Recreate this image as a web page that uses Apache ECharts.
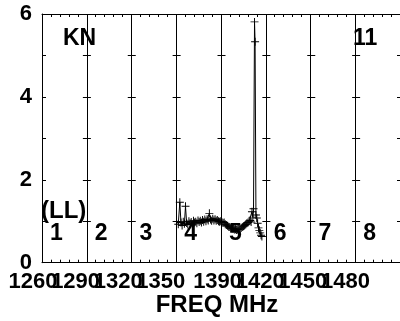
<!DOCTYPE html>
<html lang="en">
<head>
<meta charset="UTF-8">
<title>KN 11 (LL)</title>
<style>html, body { margin: 0; padding: 0; background: #fff; }</style>
</head>
<body>
<div id="chart" style="width: 400px; height: 321px"></div>
<script src="https://cdn.jsdelivr.net/npm/echarts@6/dist/echarts.min.js"></script>
<script>
// tick labels and band numbers
const freqTicks = [1260, 1290, 1320, 1350, 1390, 1420, 1450, 1480];
const bandNames = ['1', '2', '3', '4', '5', '6', '7', '8'];

// spectrum (MHz, amplitude)
const freq = [1362.3, 1363.4, 1364.2, 1365.0, 1365.8, 1366.6, 1367.4, 1368.2, 1369.0, 1369.8,
              1370.6, 1371.4, 1372.2, 1373.0, 1373.8, 1374.6, 1375.4, 1376.2, 1377.0, 1377.8,
              1378.6, 1379.4, 1380.2, 1381.0, 1381.8, 1382.6, 1383.4, 1384.2, 1385.0, 1385.8,
              1386.6, 1387.4, 1388.2, 1389.0, 1389.8, 1390.6, 1391.4, 1392.2, 1393.0, 1393.8,
              1394.6, 1395.4, 1396.2, 1397.0, 1397.8, 1398.6, 1399.4, 1400.2, 1401.0, 1401.8,
              1402.6, 1403.4, 1404.2, 1405.0, 1405.8, 1406.6, 1407.4, 1408.2, 1409.0, 1409.8,
              1410.6, 1411.4, 1412.2, 1413.0, 1413.6, 1414.2, 1414.8, 1415.3, 1416.0, 1416.4,
              1417.0, 1417.6, 1418.2, 1418.8, 1419.4, 1420.0, 1420.6, 1421.2];
const amp = [0.93, 1.46, 0.97, 0.90, 0.99, 0.94, 1.36, 0.96, 0.92, 1.00,
             0.95, 0.98, 0.93, 1.01, 0.97, 0.99, 0.95, 1.02, 0.98, 1.01,
             0.97, 1.03, 0.99, 1.04, 1.00, 1.05, 1.02, 1.19, 1.04, 1.01,
             1.06, 1.02, 1.05, 1.01, 1.03, 1.00, 0.99, 1.00, 0.98, 0.96,
             0.97, 0.93, 0.91, 0.89, 0.87, 0.86, 0.84, 0.83, 0.82, 0.80,
             0.81, 0.79, 0.80, 0.82, 0.81, 0.84, 0.86, 0.88, 0.90, 0.92,
             0.95, 0.97, 1.00, 1.02, 0.98, 1.23, 1.10, 1.30, 5.81, 5.33,
             1.15, 1.08, 0.95, 0.84, 0.78, 0.72, 0.66, 0.63];

const FONT = 'Liberation Sans, Arial, sans-serif';
const plus = 'path://M0,4.4L10,4.4L10,5.6L0,5.6Z M4.4,0L5.6,0L5.6,10L4.4,10Z';
const bandW = 359 / 8;

// the labels overlap each other, so split them over two label-only axes
function labelAxis(values) {
    return {
        gridIndex: 1, type: 'value', min: 1260, max: 1500, position: 'bottom', offset: 0,
        axisLine: { show: false },
        axisTick: { show: false },
        splitLine: { show: false },
        axisLabel: {
            customValues: values,
            formatter: v => String(v),
            showMinLabel: true,
            showMaxLabel: true,
            hideOverlap: false,
            color: '#000', fontFamily: FONT, fontWeight: 'bold', fontSize: 22, margin: 8
        }
    };
}

const chart = echarts.init(document.getElementById('chart'));

const option = {
    animation: false,
    grid: [
        { left: 42, top: 14, width: 359, height: 248.7 },
        { left: 33, top: 14, width: (1500 - 1260) * 1.42, height: 248.7 }
    ],
    xAxis: [
        {
            gridIndex: 0, type: 'value', min: 0, max: 8, interval: 1, position: 'bottom',
            axisLine: { lineStyle: { color: '#000', width: 1 } },
            axisTick: { inside: true, length: 4, lineStyle: { color: '#000' } },
            minorTick: { show: true, splitNumber: 5, length: 3, lineStyle: { color: '#000' } },
            splitLine: { show: true, lineStyle: { color: '#000', width: 1 } },
            axisLabel: { show: false }
        },
        {
            gridIndex: 0, type: 'value', min: 0, max: 8, interval: 1, position: 'top',
            axisLine: { lineStyle: { color: '#000', width: 1 } },
            axisTick: { inside: true, length: 4, lineStyle: { color: '#000' } },
            minorTick: { show: true, splitNumber: 5, length: 3, lineStyle: { color: '#000' } },
            splitLine: { show: false },
            axisLabel: { show: false }
        },
        labelAxis(freqTicks.filter((v, i) => i % 2 === 0)),
        labelAxis(freqTicks.filter((v, i) => i % 2 === 1))
    ],
    yAxis: [
        {
            gridIndex: 0, type: 'value', min: 0, max: 6, interval: 1,
            axisLine: { show: true, lineStyle: { color: '#000', width: 1 } },
            axisTick: { show: false },
            splitLine: {
                show: true,
                lineStyle: { color: '#000', width: 1, type: [8, bandW - 8], dashOffset: 4 }
            },
            axisLabel: {
                formatter: v => (v % 2 === 0 ? String(v) : ''),
                showMinLabel: true,
                showMaxLabel: true,
                color: '#000', fontFamily: FONT, fontWeight: 'bold', fontSize: 22, margin: 10
            }
        },
        { gridIndex: 1, type: 'value', min: 0, max: 6, show: false }
    ],
    series: [{
        type: 'line',
        xAxisIndex: 2,
        yAxisIndex: 1,
        data: freq.map((f, i) => [f, amp[i]]),
        symbol: plus,
        symbolSize: 8,
        showAllSymbol: true,
        lineStyle: { color: '#000', width: 1 },
        itemStyle: { color: '#000' }
    }]
};

chart.setOption(option);

function txt(text, x, y, size, align) {
    return {
        type: 'text', x: x, y: y, silent: true,
        style: {
            text: text, fill: '#000', align: align || 'left', verticalAlign: 'middle',
            font: 'bold ' + size + 'px ' + FONT
        }
    };
}

const labels = [
    txt('KN', 63, 38.5, 23),
    txt('11', 353, 38.5, 23),
    txt('(LL)', 41, 211, 24),
    txt('FREQ MHz', 217, 305, 24, 'center')
];
bandNames.forEach((name, i) => {
    const x = chart.convertToPixel({ xAxisIndex: 0 }, i);
    labels.push(txt(name, x + 8, 233.5, 23));
});

chart.setOption({ graphic: labels });
</script>
</body>
</html>
